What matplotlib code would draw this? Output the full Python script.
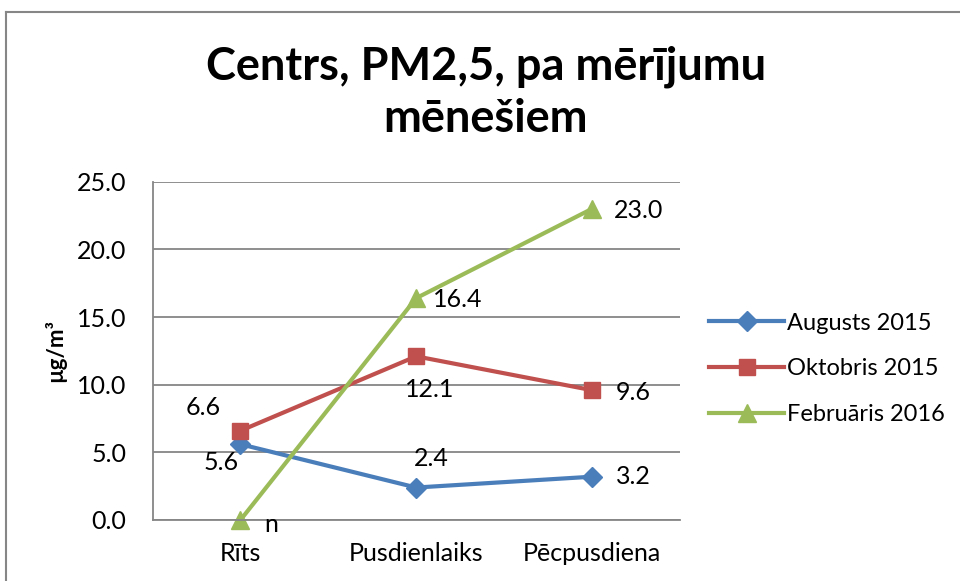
import matplotlib.pyplot as plt
from matplotlib.lines import Line2D

# dati
kategorijas = ["Rīts", "Pusdienlaiks", "Pēcpusdiena"]
augusts = [5.6, 2.4, 3.2]
oktobris = [6.6, 12.1, 9.6]
februaris = [0.0, 16.4, 23.0]
februaris_teksti = ["n", "16.4", "23.0"]
serijas = ["Augusts 2015", "Oktobris 2015", "Februāris 2016"]
y_ticks = [0, 5, 10, 15, 20, 25]

plt.rcParams['font.family'] = ['Lato', 'DejaVu Sans']

fig = plt.figure(figsize=(9.6, 5.81), dpi=100)
ax = fig.add_axes([0.159, 0.105, 0.549, 0.582])

x = range(len(kategorijas))
krasas = ['#4A7EBB', '#C0504D', '#9BBB59']
markeri = ['D', 's', '^']
izm = [10.5, 11.5, 13]

for vert, c, m, s, nos in zip([augusts, oktobris, februaris], krasas, markeri, izm, serijas):
    ax.plot(x, vert, color=c, lw=3, marker=m, markersize=s, label=nos, clip_on=False)

# datu etiķetes (nobīde punktos)
fs = 18
nob_aug = [(-14, -13), (11, 21), (30, 0)]
nob_okt = [(-27, 17), (10, -24), (30, -2)]
nob_feb = [(22, -3), (30, -1), (34, -1)]
for i in x:
    ax.annotate(f"{augusts[i]:.1f}", (i, augusts[i]), xytext=nob_aug[i], textcoords='offset points',
                ha='center', va='center', fontsize=fs)
    ax.annotate(f"{oktobris[i]:.1f}", (i, oktobris[i]), xytext=nob_okt[i], textcoords='offset points',
                ha='center', va='center', fontsize=fs)
    ax.annotate(februaris_teksti[i], (i, februaris[i]), xytext=nob_feb[i], textcoords='offset points',
                ha='center', va='center', fontsize=fs)

ax.set_xlim(-0.5, 2.5)
ax.set_ylim(0, 25)
ax.set_yticks(y_ticks)
ax.set_yticklabels([f"{v:.1f}" for v in y_ticks])
ax.set_xticks(list(x))
ax.set_xticklabels(kategorijas)
ax.tick_params(length=0, labelsize=fs)
ax.tick_params(axis='x', pad=16)
ax.tick_params(axis='y', pad=19)
ax.grid(axis='y', color='#868686', lw=1.3)
ax.set_axisbelow(True)
for sp in ['top', 'right']:
    ax.spines[sp].set_visible(False)
for sp in ['left', 'bottom']:
    ax.spines[sp].set_color('#868686')
    ax.spines[sp].set_linewidth(1.3)

ax.set_ylabel("µg/m³", fontsize=16, fontweight='bold', labelpad=8)

fig.text(0.506, 0.84, "Centrs, PM2,5, pa mērījumu\nmēnešiem", ha='center', va='center',
         fontsize=32.5, fontweight='bold', linespacing=1.3)

ax.legend(loc='center left', bbox_to_anchor=(1.015, 0.447), frameon=False, fontsize=17,
          handlelength=3.2, handletextpad=0.1, labelspacing=1.05)

# rāmis
fig.add_artist(Line2D([0.006, 0.006], [0, 0.98], color='#868686', lw=1.5))
fig.add_artist(Line2D([0.006, 1.0], [0.98, 0.98], color='#868686', lw=1.5))

fig.savefig("out.png", dpi=100)
